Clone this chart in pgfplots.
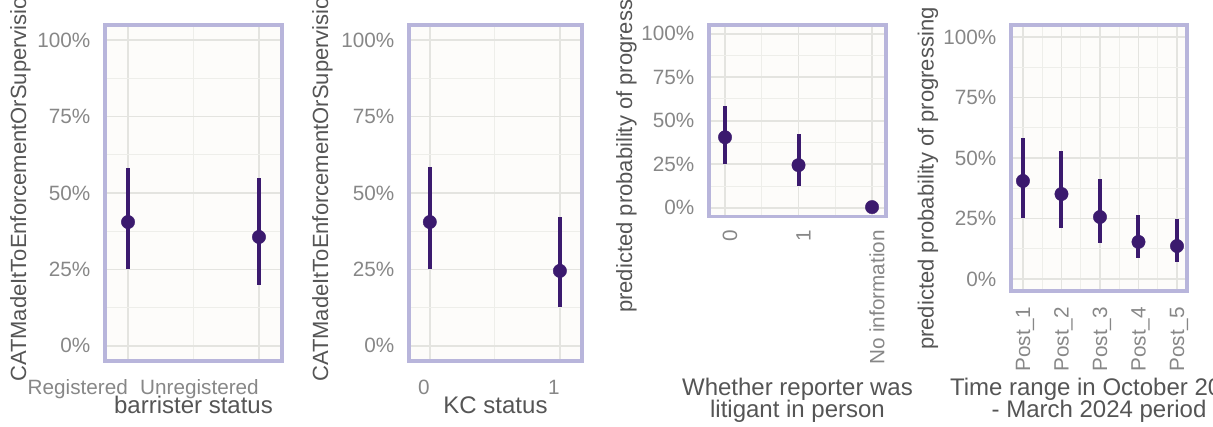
\documentclass[border=0pt]{standalone}
\usepackage{pgfplots}
\pgfplotsset{compat=1.18}
\usepackage{fontspec}
\setmainfont{Liberation Sans}
\definecolor{framec}{RGB}{184,181,219}
\definecolor{gridmaj}{RGB}{228,228,224}
\definecolor{gridmin}{RGB}{238,238,234}
\definecolor{bgc}{RGB}{253,252,250}
\definecolor{ptc}{RGB}{59,26,110}
\definecolor{ticktext}{RGB}{135,135,135}
\definecolor{titletext}{RGB}{85,85,85}
\pgfplotsset{
 panel/.style={
  scale only axis, anchor=south west,
  ymin=-0.05, ymax=1.05,
  ytick={0,0.25,0.5,0.75,1},
  yticklabels={0\%,25\%,50\%,75\%,100\%},
  minor ytick={0.125,0.375,0.625,0.875},
  grid=both,
  major grid style={color=gridmaj, line width=1.7pt},
  minor grid style={color=gridmin, line width=1pt},
  major tick length=0pt, minor tick length=0pt,
  axis line style={color=framec, line width=3.5pt},
  axis background/.style={fill=bgc},
  tick label style={font=\fontsize{20.7}{24}\selectfont, text=ticktext},
  yticklabel style={anchor=east, inner sep=0pt, xshift=-14.5pt},
  clip=false,
 },
 pts/.style={only marks, mark=*, mark size=6.7pt, color=ptc, mark options={fill=ptc, draw=ptc},
  error bars/.cd, y dir=both, y explicit, error mark=none,
  error bar style={line width=4pt, color=ptc}},
}
\begin{document}
\begin{tikzpicture}
\useasboundingbox (0,0) rectangle (1213pt,426pt);
\clip (0,0) rectangle (1213pt,426pt);
% Panel 1
\begin{axis}[panel, at={(105pt,65pt)}, width=177pt, height=336pt,
  xmin=0.824, xmax=2.176, xtick={1,2}, minor xtick={1.5},
  xticklabels={Registered,Unregistered},
  xticklabel style={anchor=base east, inner sep=0pt, yshift=-33.5pt}]
\addplot[pts] table[x=x, y=y, y error plus=ep, y error minus=em] {
x y ep em
1 0.405 0.177 0.154
2 0.356 0.193 0.157
};
\end{axis}
% Panel 2
\begin{axis}[panel, at={(409pt,65pt)}, width=173pt, height=336pt,
  xmin=-0.16, xmax=1.17, xtick={0,1}, minor xtick={0.5},
  xticklabels={0,1},
  xticklabel style={anchor=base east, inner sep=0pt, yshift=-33.5pt}]
\addplot[pts] table[x=x, y=y, y error plus=ep, y error minus=em] {
x y ep em
0 0.405 0.180 0.154
1 0.245 0.176 0.118
};
\end{axis}
% Panel 3
\begin{axis}[panel, at={(709pt,209.5pt)}, width=177pt, height=191.5pt,
  xmin=-0.218, xmax=2.19, xtick={0,1,2}, minor xtick={0.5,1.5},
  xticklabels={0,1,No information},
  xticklabel style={xshift=5pt, yshift=-13.5pt, rotate=90, anchor=east, inner sep=0pt}]
\addplot[pts] table[x=x, y=y, y error plus=ep, y error minus=em] {
x y ep em
0 0.405 0.177 0.151
1 0.245 0.178 0.117
2 0.004 0 0
};
\end{axis}
% Panel 4
\begin{axis}[panel, at={(1011pt,135pt)}, width=176pt, height=266pt,
  xmin=0.69, xmax=5.26, xtick={1,2,3,4,5}, minor xtick={1.5,2.5,3.5,4.5},
  xticklabels={Post\_1,Post\_2,Post\_3,Post\_4,Post\_5},
  xticklabel style={xshift=2pt, yshift=-16pt, rotate=90, anchor=east, inner sep=0pt}]
\addplot[pts] table[x=x, y=y, y error plus=ep, y error minus=em] {
x y ep em
1 0.405 0.178 0.153
2 0.351 0.178 0.141
3 0.256 0.157 0.107
4 0.153 0.111 0.067
5 0.136 0.112 0.066
};
\end{axis}
% axis titles
\begin{scope}[every node/.style={text=titletext, inner sep=0pt}]
\node[anchor=base, font=\fontsize{24}{24}\selectfont] at (193.5pt,13pt) {barrister status};
\node[anchor=base, font=\fontsize{24}{24}\selectfont] at (495.5pt,13pt) {KC status};
\node[anchor=base, font=\fontsize{24}{24}\selectfont] at (797.5pt,31pt) {Whether reporter was};
\node[anchor=base, font=\fontsize{24}{24}\selectfont] at (797.5pt,9pt) {litigant in person};
\node[anchor=base, font=\fontsize{24}{24}\selectfont] at (1099pt,31pt) {Time range in October 2023};
\node[anchor=base, font=\fontsize{24}{24}\selectfont] at (1099pt,9pt) {- March 2024 period};
\node[rotate=90, anchor=base west, font=\fontsize{22}{22}\selectfont] at (26pt,44pt) {CATMadeItToEnforcementOrSupervision};
\node[rotate=90, anchor=base west, font=\fontsize{22}{22}\selectfont] at (328pt,44pt) {CATMadeItToEnforcementOrSupervision};
\node[rotate=90, anchor=base west, font=\fontsize{22}{22}\selectfont] at (632pt,113pt) {predicted probability of progressing n};
\node[rotate=90, anchor=base west, font=\fontsize{22}{22}\selectfont] at (933.5pt,76pt) {predicted probability of progressing n};
\end{scope}
\end{tikzpicture}
\end{document}
